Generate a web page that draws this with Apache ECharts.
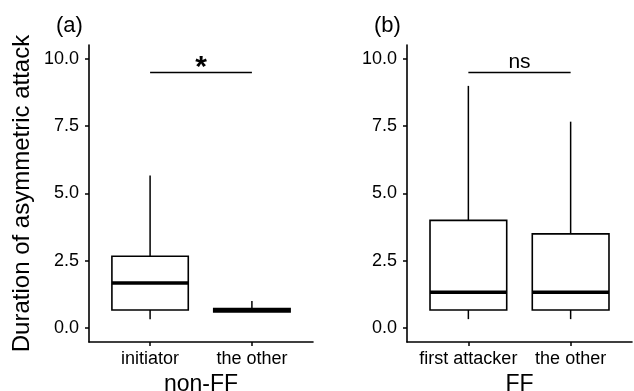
<!DOCTYPE html>
<html>
<head>
<meta charset="utf-8">
<script src="https://cdn.jsdelivr.net/npm/echarts@6/dist/echarts.min.js"></script>
<style>
html,body{margin:0;padding:0;background:#fff;}
#chart{width:634px;height:391px;}
</style>
</head>
<body>
<div id="chart"></div>
<script>
// ---- data ----
var categoriesA = ['initiator', 'the other'];
var categoriesB = ['first attacker', 'the other'];
var groupTitleA = 'non-FF';
var groupTitleB = 'FF';
var panelTags = ['(a)', '(b)'];
var yTitle = 'Duration of asymmetric attack';
var yTicks = [0, 2.5, 5, 7.5, 10];

// box statistics: [lower whisker, Q1, median, Q3, upper whisker]
var lowA = [0.33, 0.6];
var q1A = [0.67, 0.6];
var medA = [1.67, 0.66];
var q3A = [2.67, 0.72];
var highA = [5.67, 1.0];

var lowB = [0.33, 0.33];
var q1B = [0.67, 0.67];
var medB = [1.33, 1.33];
var q3B = [4.0, 3.5];
var highB = [9.0, 7.67];

var sigY = [9.5, 9.5];
var sigLabels = ['*', 'ns'];

// ---- build ----
function boxData(low, q1, med, q3, high) {
  return low.map(function (v, i) { return [i + 1, low[i], q1[i], med[i], q3[i], high[i]]; });
}

var FONT = '"Liberation Sans", Arial, Helvetica, sans-serif';

function renderBox(params, api) {
  var x = api.value(0);
  var lo = api.value(1), q1 = api.value(2), med = api.value(3), q3 = api.value(4), hi = api.value(5);
  var half = 0.375;
  var tl = api.coord([x - half, q3]);
  var br = api.coord([x + half, q1]);
  var mL = api.coord([x - half, med]);
  var mR = api.coord([x + half, med]);
  var c3 = api.coord([x, q3]);
  var c1 = api.coord([x, q1]);
  var top = api.coord([x, hi]);
  var bot = api.coord([x, lo]);
  var children = [];
  if (hi > q3) children.push({type: 'line', shape: {x1: c3[0], y1: c3[1], x2: top[0], y2: top[1]}, style: {stroke: '#000', lineWidth: 1.5}});
  if (lo < q1) children.push({type: 'line', shape: {x1: c1[0], y1: c1[1], x2: bot[0], y2: bot[1]}, style: {stroke: '#000', lineWidth: 1.5}});
  children.push({type: 'rect', shape: {x: tl[0], y: tl[1], width: br[0] - tl[0], height: br[1] - tl[1]}, style: {fill: '#fff', stroke: '#000', lineWidth: 1.6}});
  children.push({type: 'line', shape: {x1: mL[0], y1: mL[1], x2: mR[0], y2: mR[1]}, style: {stroke: '#000', lineWidth: 3.5}});
  return {type: 'group', children: children};
}

function makeSig(label) {
  return function (params, api) {
    var x1 = api.value(0), x2 = api.value(1), y = api.value(2);
    var a = api.coord([x1, y]);
    var b = api.coord([x2, y]);
    var isStar = label === '*';
    return {type: 'group', children: [
      {type: 'line', shape: {x1: a[0], y1: a[1], x2: b[0], y2: b[1]}, style: {stroke: '#000', lineWidth: 1.5}},
      {type: 'text', x: (a[0] + b[0]) / 2, y: a[1] + (isStar ? 10 : 0), style: {
        text: label, fill: '#000', font: (isStar ? 'bold 30px ' : '21px ') + FONT,
        textAlign: 'center', textVerticalAlign: 'bottom'}}
    ]};
  };
}

function xAxisFor(idx, cats, title) {
  return {
    type: 'value', gridIndex: idx, min: 0.4, max: 2.6,
    name: title, nameLocation: 'middle', nameGap: 28,
    nameTextStyle: {fontSize: 23, color: '#000', fontFamily: FONT},
    axisLine: {onZero: false, lineStyle: {color: '#000', width: 1.6}},
    axisTick: {show: true, length: 4, customValues: [1, 2], lineStyle: {color: '#000', width: 1.5}},
    axisLabel: {customValues: [1, 2], margin: 8, fontSize: 18, color: '#000', fontFamily: FONT,
      formatter: function (v) { return cats[Math.round(v) - 1]; }},
    splitLine: {show: false}
  };
}

function yAxisFor(idx, showName) {
  return {
    type: 'value', gridIndex: idx, min: -0.52, max: 10.52,
    name: showName ? yTitle : '', nameLocation: 'middle', nameGap: 55,
    nameTextStyle: {fontSize: 24, color: '#000', fontFamily: FONT},
    axisLine: {show: true, onZero: false, lineStyle: {color: '#000', width: 1.6}},
    axisTick: {show: true, length: 4, customValues: yTicks, lineStyle: {color: '#000', width: 1.5}},
    axisLabel: {customValues: yTicks, margin: 10, fontSize: 18, color: '#000', fontFamily: FONT,
      formatter: function (v) { return v.toFixed(1); }},
    splitLine: {show: false}
  };
}

var chart = echarts.init(document.getElementById('chart'), null, {renderer: 'canvas'});
chart.setOption({
  backgroundColor: '#fff',
  animation: false,
  title: [
    {text: panelTags[0], left: 51, top: 10, textStyle: {fontSize: 22, fontWeight: 'normal', color: '#000', fontFamily: FONT}},
    {text: panelTags[1], left: 369, top: 10, textStyle: {fontSize: 22, fontWeight: 'normal', color: '#000', fontFamily: FONT}}
  ],
  grid: [
    {left: 89, top: 45, width: 224, height: 297, containLabel: false, outerBoundsMode: 'none'},
    {left: 407, top: 45, width: 225, height: 297, containLabel: false, outerBoundsMode: 'none'}
  ],
  xAxis: [xAxisFor(0, categoriesA, groupTitleA), xAxisFor(1, categoriesB, groupTitleB)],
  yAxis: [yAxisFor(0, true), yAxisFor(1, false)],
  series: [
    {type: 'custom', xAxisIndex: 0, yAxisIndex: 0, renderItem: renderBox,
      encode: {x: 0, y: [1, 2, 3, 4, 5]}, data: boxData(lowA, q1A, medA, q3A, highA)},
    {type: 'custom', xAxisIndex: 1, yAxisIndex: 1, renderItem: renderBox,
      encode: {x: 0, y: [1, 2, 3, 4, 5]}, data: boxData(lowB, q1B, medB, q3B, highB)},
    {type: 'custom', xAxisIndex: 0, yAxisIndex: 0, renderItem: makeSig(sigLabels[0]),
      encode: {x: [0, 1], y: 2}, data: [[1, 2, sigY[0]]]},
    {type: 'custom', xAxisIndex: 1, yAxisIndex: 1, renderItem: makeSig(sigLabels[1]),
      encode: {x: [0, 1], y: 2}, data: [[1, 2, sigY[1]]]}
  ]
});
</script>
</body>
</html>
